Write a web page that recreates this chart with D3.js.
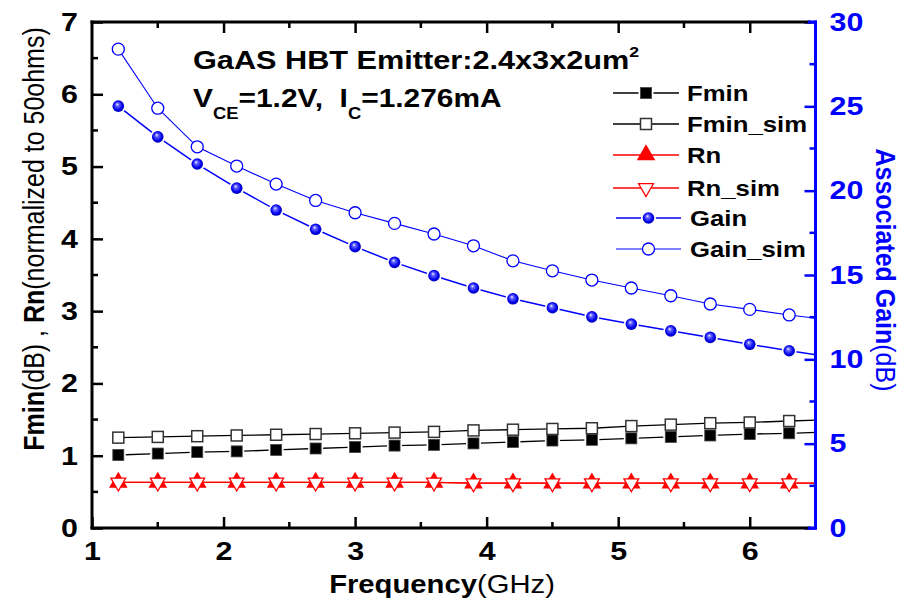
<!DOCTYPE html>
<html>
<head>
<meta charset="utf-8">
<title>GaAs HBT Fmin / Rn / Gain</title>
<script src="https://cdn.jsdelivr.net/npm/d3@7/dist/d3.min.js"></script>
<style>
  body { margin: 0; background: #fff; }
  text { font-family: "Liberation Sans", Arial, sans-serif; }
</style>
</head>
<body>
<svg id="chart" width="904" height="605"></svg>
<script>
// frequency points (GHz); last point lies past the axis end and is clipped
const freq    = [1.2, 1.5, 1.8, 2.1, 2.4, 2.7, 3.0, 3.3, 3.6, 3.9, 4.2, 4.5, 4.8, 5.1, 5.4, 5.7, 6.0, 6.3, 6.6];
const fmin    = [1.01, 1.03, 1.05, 1.06, 1.08, 1.10, 1.12, 1.14, 1.15, 1.17, 1.19, 1.21, 1.22, 1.24, 1.26, 1.28, 1.30, 1.31, 1.33];
const fminSim = [1.25, 1.26, 1.27, 1.28, 1.29, 1.30, 1.31, 1.32, 1.33, 1.35, 1.36, 1.37, 1.38, 1.41, 1.43, 1.45, 1.46, 1.48, 1.50];
const rn      = [0.63, 0.63, 0.63, 0.63, 0.63, 0.63, 0.63, 0.63, 0.63, 0.62, 0.62, 0.62, 0.62, 0.62, 0.62, 0.62, 0.62, 0.62, 0.62];
const rnSim   = [0.63, 0.63, 0.63, 0.63, 0.63, 0.63, 0.63, 0.63, 0.63, 0.62, 0.62, 0.62, 0.62, 0.62, 0.62, 0.62, 0.62, 0.62, 0.62];
const gain    = [25.01, 23.19, 21.58, 20.15, 18.85, 17.71, 16.68, 15.75, 14.96, 14.23, 13.59, 13.06, 12.52, 12.09, 11.69, 11.30, 10.89, 10.51, 10.15];
const gainSim = [28.39, 24.89, 22.60, 21.46, 20.39, 19.42, 18.69, 18.06, 17.43, 16.73, 15.84, 15.25, 14.70, 14.23, 13.77, 13.28, 12.96, 12.63, 12.35];

const xTicks = [1, 2, 3, 4, 5, 6];
const yTicks = [0, 1, 2, 3, 4, 5, 6, 7];
const gTicks = [0, 5, 10, 15, 20, 25, 30];

const SX = 1.17; // the picture's text is a bit wide
const svg = d3.select('#chart');
const pLeft = 92, pRight = 815.5, pTop = 22, pBottom = 528;

const x = d3.scaleLinear().domain([1, 6.5]).range([pLeft, pRight]);
const y = d3.scaleLinear().domain([0, 7]).range([pBottom, pTop]);
const yg = d3.scaleLinear().domain([0, 30]).range([pBottom, pTop]);

const defs = svg.append('defs');
defs.append('clipPath').attr('id', 'plotclip')
  .append('rect').attr('x', pLeft).attr('y', pTop).attr('width', pRight - pLeft).attr('height', pBottom - pTop);
const grad = defs.append('radialGradient').attr('id', 'ball')
  .attr('cx', 0.5).attr('cy', 0.5).attr('r', 0.6).attr('fx', 0.4).attr('fy', 0.33);
grad.append('stop').attr('offset', '0%').attr('stop-color', '#ffffff');
grad.append('stop').attr('offset', '22%').attr('stop-color', '#6a6aff');
grad.append('stop').attr('offset', '65%').attr('stop-color', '#0000ee');
grad.append('stop').attr('offset', '100%').attr('stop-color', '#00009a');

const series = [
  {name: 'Fmin',     vals: fmin,    scale: y,  color: '#000', lw: 1.3, marker: 'sqFill'},
  {name: 'Fmin_sim', vals: fminSim, scale: y,  color: '#000', lw: 1.3, marker: 'sqOpen'},
  {name: 'Rn',       vals: rn,      scale: y,  color: '#ff0000', lw: 1.3, marker: 'triUp'},
  {name: 'Rn_sim',   vals: rnSim,   scale: y,  color: '#ff0000', lw: 1.3, marker: 'triDown'},
  {name: 'Gain',     vals: gain,    scale: yg, color: '#0000ff', lw: 1.5, marker: 'ball'},
  {name: 'Gain_sim', vals: gainSim, scale: yg, color: '#0000ff', lw: 1.1, marker: 'ring'}
];

const triBig = d3.symbol(d3.symbolTriangle, 150)();
const triSmall = d3.symbol(d3.symbolTriangle, 95)();

function drawMarker(g, kind, cx, cy) {
  const t = `translate(${cx},${cy})`;
  if (kind === 'sqFill') {
    g.append('rect').attr('x', cx - 7.5).attr('y', cy - 7.5).attr('width', 15).attr('height', 15).attr('fill', '#fff');
    g.append('rect').attr('x', cx - 5.5).attr('y', cy - 5.5).attr('width', 11).attr('height', 11)
      .attr('fill', '#000').attr('stroke', '#444').attr('stroke-width', 0.8);
  } else if (kind === 'sqOpen') {
    g.append('rect').attr('x', cx - 5.5).attr('y', cy - 5.5).attr('width', 11).attr('height', 11)
      .attr('fill', '#fff').attr('stroke', '#333').attr('stroke-width', 1.5);
  } else if (kind === 'triUp') {
    g.append('path').attr('d', triBig).attr('transform', t).attr('fill', '#ff0000');
  } else if (kind === 'triDown') {
    g.append('path').attr('d', triSmall).attr('transform', t + ' rotate(180)')
      .attr('fill', '#fff').attr('stroke', '#ff0000').attr('stroke-width', 1.3);
  } else if (kind === 'ball') {
    g.append('circle').attr('cx', cx).attr('cy', cy).attr('r', 7.5).attr('fill', '#fff');
    g.append('circle').attr('cx', cx).attr('cy', cy).attr('r', 5.8).attr('fill', 'url(#ball)');
  } else if (kind === 'ring') {
    g.append('circle').attr('cx', cx).attr('cy', cy).attr('r', 6).attr('fill', '#fff')
      .attr('stroke', '#0000ff').attr('stroke-width', 1.3);
  }
}

// series lines and markers
const plot = svg.append('g');
series.forEach(s => {
  const pts = freq.map((f, i) => [f, s.vals[i]]);
  const line = d3.line().x(d => x(d[0])).y(d => s.scale(d[1]));
  plot.append('path').datum(pts).attr('d', line).attr('clip-path', 'url(#plotclip)')
    .attr('fill', 'none').attr('stroke', s.color).attr('stroke-width', s.lw);
});
series.forEach(s => {
  const mg = plot.append('g');
  freq.forEach((f, i) => {
    if (f <= 6.5) drawMarker(mg, s.marker, x(f), s.scale(s.vals[i]));
  });
});

// axes
function styleAxis(g, color) {
  g.select('.domain').remove();
  g.selectAll('.tick line').attr('stroke', color).attr('stroke-width', 2.5);
  g.selectAll('.tick text').attr('fill', color).attr('font-size', 26).attr('font-weight', 'bold')
    .attr('font-family', '"Liberation Sans", Arial, sans-serif').attr('transform', `scale(${SX},1)`);
}

const xAxis = svg.append('g').attr('transform', `translate(0,${pBottom})`)
  .call(d3.axisBottom(x).tickValues(xTicks).tickSize(-11).tickPadding(14).tickFormat(d3.format('d')));
styleAxis(xAxis, '#000');
const xTop = svg.append('g').attr('transform', `translate(0,${pTop})`)
  .call(d3.axisTop(x).tickValues(xTicks.slice(1)).tickSize(-11).tickFormat(''));
styleAxis(xTop, '#000');
const yAxis = svg.append('g').attr('transform', `translate(${pLeft},0)`)
  .call(d3.axisLeft(y).tickValues(yTicks).tickSize(-11).tickPadding(12).tickFormat(d3.format('d')));
styleAxis(yAxis, '#000');
const gAxis = svg.append('g').attr('transform', `translate(${pRight},0)`)
  .call(d3.axisRight(yg).tickValues(gTicks).tickSize(-11).tickPadding(12).tickFormat(d3.format('d')));
styleAxis(gAxis, '#0000ff');
gAxis.selectAll('.tick text').attr('text-anchor', 'start');

const minor = svg.append('g');
[1.5, 2.5, 3.5, 4.5, 5.5].forEach(v => {
  minor.append('line').attr('x1', x(v)).attr('x2', x(v)).attr('y1', pBottom).attr('y2', pBottom - 6)
    .attr('stroke', '#000').attr('stroke-width', 2.5);
  minor.append('line').attr('x1', x(v)).attr('x2', x(v)).attr('y1', pTop).attr('y2', pTop + 6)
    .attr('stroke', '#000').attr('stroke-width', 2.5);
});
[0.5, 1.5, 2.5, 3.5, 4.5, 5.5, 6.5].forEach(v => {
  minor.append('line').attr('x1', pLeft).attr('x2', pLeft + 6).attr('y1', y(v)).attr('y2', y(v))
    .attr('stroke', '#000').attr('stroke-width', 2.5);
});
[2.5, 7.5, 12.5, 17.5, 22.5, 27.5].forEach(v => {
  minor.append('line').attr('x1', pRight).attr('x2', pRight - 6).attr('y1', yg(v)).attr('y2', yg(v))
    .attr('stroke', '#0000ff').attr('stroke-width', 2.5);
});

// frame
const frame = svg.append('g').attr('stroke-linecap', 'square');
frame.append('line').attr('x1', pLeft).attr('x2', pRight - 6).attr('y1', pBottom).attr('y2', pBottom).attr('stroke', '#000').attr('stroke-width', 3);
frame.append('line').attr('x1', pLeft).attr('x2', pRight - 6).attr('y1', pTop).attr('y2', pTop).attr('stroke', '#000').attr('stroke-width', 3);
frame.append('line').attr('x1', pLeft).attr('x2', pLeft).attr('y1', pTop).attr('y2', pBottom).attr('stroke', '#000').attr('stroke-width', 3);
frame.append('line').attr('x1', pRight).attr('x2', pRight).attr('y1', pTop).attr('y2', pBottom).attr('stroke', '#0000ff').attr('stroke-width', 3);
frame.append('line').attr('x1', pRight - 6).attr('x2', pRight).attr('y1', pBottom).attr('y2', pBottom).attr('stroke', '#0000ff').attr('stroke-width', 3);
frame.append('line').attr('x1', pRight - 6).attr('x2', pRight).attr('y1', pTop).attr('y2', pTop).attr('stroke', '#0000ff').attr('stroke-width', 3);

// axis titles
const xt = svg.append('text').attr('transform', `translate(442,593) scale(${SX},1)`)
  .attr('text-anchor', 'middle').attr('font-size', 25);
xt.append('tspan').attr('font-weight', 'bold').text('Frequency');
xt.append('tspan').text('(GHz)');

const yt = svg.append('text').attr('transform', `translate(44,239) scale(${SX},1) rotate(-90)`)
  .attr('text-anchor', 'middle').attr('font-size', 25).style('white-space', 'pre');
yt.append('tspan').attr('font-weight', 'bold').text('Fmin');
yt.append('tspan').text('(dB) , ');
yt.append('tspan').attr('font-weight', 'bold').text('Rn');
yt.append('tspan').text('(normalized to 50ohms)');

const gt = svg.append('text').attr('transform', `translate(876,270) scale(1.1,1) rotate(90)`)
  .attr('text-anchor', 'middle').attr('font-size', 25).attr('fill', '#0000ff');
gt.append('tspan').attr('font-weight', 'bold').text('Associated Gain');
gt.append('tspan').text('(dB)');

// annotation
const t1 = svg.append('text').attr('transform', `translate(193,69) scale(1.18,1)`)
  .attr('font-size', 26).attr('font-weight', 'bold');
t1.append('tspan').text('GaAS HBT Emitter:2.4x3x2um');
t1.append('tspan').attr('font-size', 15).attr('dy', -12).text('2');

const t2 = svg.append('text').attr('transform', `translate(193,107) scale(1.15,1)`)
  .attr('font-size', 26).attr('font-weight', 'bold').style('white-space', 'pre');
t2.append('tspan').text('V');
t2.append('tspan').attr('font-size', 16).attr('dy', 12).text('CE');
t2.append('tspan').attr('dy', -12).text('=1.2V,  I');
t2.append('tspan').attr('font-size', 16).attr('dy', 12).text('C');
t2.append('tspan').attr('dy', -12).text('=1.276mA');

// legend
const legendY = [93, 124, 155, 188, 218, 249];
const legend = svg.append('g');
series.forEach((s, i) => {
  const isGain = i >= 4;
  const x0 = isGain ? 616 : 613, x1 = isGain ? 681 : 679;
  const ly = legendY[i];
  legend.append('line').attr('x1', x0).attr('x2', x1).attr('y1', ly).attr('y2', ly)
    .attr('stroke', s.color).attr('stroke-width', s.lw);
  drawMarker(legend, s.marker, (x0 + x1) / 2, ly);
  legend.append('text').attr('transform', `translate(${isGain ? 690 : 687},${ly + 8}) scale(${SX},1)`)
    .attr('font-size', 22).attr('font-weight', 'bold').text(s.name);
});
</script>
</body>
</html>
